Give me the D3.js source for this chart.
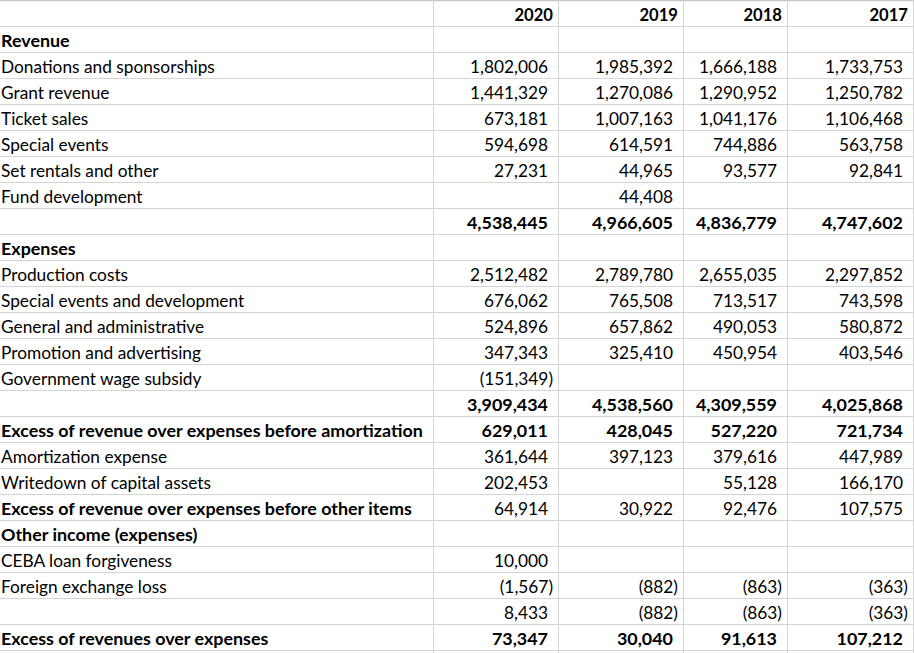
<!DOCTYPE html>
<html>
<head>
<meta charset="utf-8">
<script src="https://cdn.jsdelivr.net/npm/d3@7"></script>
<style>
  html, body { margin: 0; padding: 0; background: #fff; }
  svg { display: block; }
  text { font-family: Lato, "Open Sans", sans-serif; font-size: 17.3px; fill: #000; }
  text.b { font-weight: 700; font-size: 17.9px; }
</style>
</head>
<body>
<svg id="chart" width="914" height="653"></svg>
<script>
// ---------- DATA ----------
const years = ["2020", "2019", "2018", "2017"];

const rowLabels = [
  "",
  "Revenue",
  "Donations and sponsorships",
  "Grant revenue",
  "Ticket sales",
  "Special events",
  "Set rentals and other",
  "Fund development",
  "",
  "Expenses",
  "Production costs",
  "Special events and development",
  "General and administrative",
  "Promotion and advertising",
  "Government wage subsidy",
  "",
  "Excess of revenue over expenses before amortization",
  "Amortization expense",
  "Writedown of capital assets",
  "Excess of revenue over expenses before other items",
  "Other income (expenses)",
  "CEBA loan forgiveness",
  "Foreign exchange loss",
  "",
  "Excess of revenues over expenses"
];

// row kind: header, section, item, total (bold values), boldlabel (bold label only), grand (bold label and values)
const rowKinds = [
  "header", "section", "item", "item", "item", "item", "item", "item", "total",
  "section", "item", "item", "item", "item", "item", "total", "grand",
  "item", "item", "boldlabel", "section", "item", "item", "item", "grand"
];

const v2020 = [null, null, 1802006, 1441329, 673181, 594698, 27231, null, 4538445,
  null, 2512482, 676062, 524896, 347343, -151349, 3909434, 629011,
  361644, 202453, 64914, null, 10000, -1567, 8433, 73347];
const v2019 = [null, null, 1985392, 1270086, 1007163, 614591, 44965, 44408, 4966605,
  null, 2789780, 765508, 657862, 325410, null, 4538560, 428045,
  397123, null, 30922, null, null, -882, -882, 30040];
const v2018 = [null, null, 1666188, 1290952, 1041176, 744886, 93577, null, 4836779,
  null, 2655035, 713517, 490053, 450954, null, 4309559, 527220,
  379616, 55128, 92476, null, null, -863, -863, 91613];
const v2017 = [null, null, 1733753, 1250782, 1106468, 563758, 92841, null, 4747602,
  null, 2297852, 743598, 580872, 403546, null, 4025868, 721734,
  447989, 166170, 107575, null, null, -363, -363, 107212];

const seriesByYear = { "2020": v2020, "2019": v2019, "2018": v2018, "2017": v2017 };

// ---------- LAYOUT ----------
const W = 914, H = 653;
const svg = d3.select("#chart");
svg.append("rect").attr("width", W).attr("height", H).attr("fill", "#fff");

const rowIdx = d3.range(rowLabels.length);
const y = d3.scaleBand().domain(rowIdx).range([0, 650]).paddingInner(0).paddingOuter(0);

const labelRight = 433;
const colRight = d3.scaleOrdinal().domain(years).range([558, 683, 787, 913]);
const grid = "#d4d4d4";

// gridlines
const gGrid = svg.append("g");
gGrid.selectAll("line.h")
  .data(d3.range(rowLabels.length + 1))
  .join("line")
  .attr("x1", 0).attr("x2", W)
  .attr("y1", d => (d === rowLabels.length ? 650 : y(d)) + 0.5)
  .attr("y2", d => (d === rowLabels.length ? 650 : y(d)) + 0.5)
  .attr("stroke", d => d === 0 ? "#c8c8c8" : grid)
  .attr("stroke-width", d => d === 0 ? 1.5 : 1);

gGrid.selectAll("line.v")
  .data([labelRight].concat(years.map(colRight)))
  .join("line")
  .attr("x1", d => d + 0.5).attr("x2", d => d + 0.5)
  .attr("y1", 0).attr("y2", H)
  .attr("stroke", grid);

const baseline = i => y(i) + 21;

// row labels
svg.append("g").selectAll("text")
  .data(rowIdx.filter(i => rowLabels[i] !== ""))
  .join("text")
  .attr("class", i => ["section", "grand", "boldlabel"].includes(rowKinds[i]) ? "b" : null)
  .attr("x", 1)
  .attr("y", baseline)
  .text(i => rowLabels[i]);

// year headers
svg.append("g").selectAll("text")
  .data(years)
  .join("text")
  .attr("class", "b")
  .attr("x", d => colRight(d) - 5)
  .attr("y", baseline(0))
  .attr("text-anchor", "end")
  .style("font-size", "16.6px")
  .text(d => d);

// values
const fmt = d3.format(",");
const cells = [];
years.forEach(yr => {
  seriesByYear[yr].forEach((v, i) => {
    if (v !== null && v !== undefined) cells.push({ yr, i, v });
  });
});

svg.append("g").selectAll("text")
  .data(cells)
  .join("text")
  .attr("class", d => ["total", "grand"].includes(rowKinds[d.i]) ? "b" : null)
  .attr("x", d => colRight(d.yr) - 10 + (d.v < 0 ? 5 : 0))
  .attr("y", d => baseline(d.i))
  .attr("text-anchor", "end")
  .text(d => d.v < 0 ? "(" + fmt(-d.v) + ")" : fmt(d.v));
</script>
</body>
</html>
